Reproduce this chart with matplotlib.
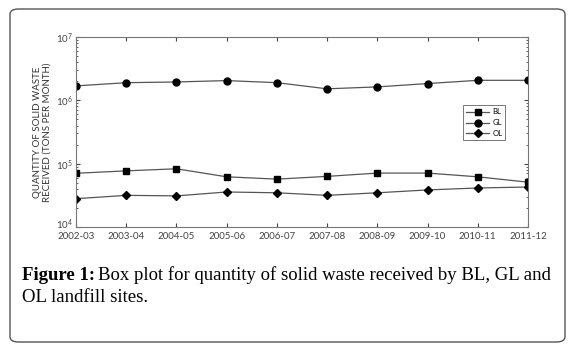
import matplotlib.pyplot as plt
import matplotlib.transforms as mtransforms
from matplotlib.patches import FancyBboxPatch

# data
years = ['2002-03', '2003-04', '2004-05', '2005-06', '2006-07',
         '2007-08', '2008-09', '2009-10', '2010-11', '2011-12']
bl = [7.05e4, 7.7e4, 8.3e4, 6.2e4, 5.7e4, 6.3e4, 7.1e4, 7.1e4, 6.2e4, 5.1e4]
gl = [1.69e6, 1.9e6, 1.95e6, 2.05e6, 1.9e6, 1.52e6, 1.63e6, 1.84e6, 2.07e6, 2.07e6]
ol = [2.8e4, 3.16e4, 3.1e4, 3.57e4, 3.47e4, 3.16e4, 3.47e4, 3.85e4, 4.13e4, 4.28e4]

plt.rcParams['font.family'] = ['Lato', 'DejaVu Sans']

fig = plt.figure(figsize=(5.75, 3.53), dpi=100)

# rounded frame round the whole figure
frame = FancyBboxPatch((10 / 575, 11 / 353), 555 / 575, 333 / 353,
                       boxstyle='round,pad=0,rounding_size=0.015',
                       transform=fig.transFigure, fill=False,
                       edgecolor='#555555', linewidth=1.0)
fig.patches.append(frame)

ax = fig.add_axes([76 / 575, 1 - 227 / 353, 452 / 575, 190 / 353])
x = range(len(years))
line_col = '#555555'
ax.plot(x, bl, color=line_col, lw=0.9, marker='s', ms=4, mfc='black', mec='black', label='BL')
ax.plot(x, gl, color=line_col, lw=0.9, marker='o', ms=5, mfc='black', mec='black', label='GL')
ax.plot(x, ol, color=line_col, lw=0.9, marker='D', ms=4.5, mfc='black', mec='black', label='OL')

ax.set_yscale('log')
ax.set_ylim(1e4, 1e7)
ax.set_xlim(0, len(years) - 1)
ax.set_xticks(list(x))
ax.set_xticklabels(years)
ax.tick_params(which='both', direction='in', top=True, right=True,
               labelsize=7, colors='#444444')
ax.tick_params(axis='x', pad=3.5)
ax.tick_params(axis='y', pad=2)
ax.tick_params(which='major', length=3)
ax.tick_params(which='minor', length=1.5)
for s in ax.spines.values():
    s.set_color('#777777')
    s.set_linewidth(0.8)

# lift the bottom 10^4 label a little so it clears the first x label
fig.canvas.draw()
lab0 = ax.get_yticklabels()[0]
for lab in ax.get_yticklabels():
    if lab.get_position()[1] <= 1e4 * 1.01:
        lab.set_transform(lab.get_transform() +
                          mtransforms.ScaledTranslation(0, 3 / 72, fig.dpi_scale_trans))

ax.set_ylabel('QUANTITY OF SOLID WASTE\nRECEIVED (TONS PER MONTH)',
              fontsize=7, color='#333333', labelpad=3, linespacing=1.2)

leg = ax.legend(loc='upper left', bbox_to_anchor=(0.848, 0.66), fontsize=5.5,
                frameon=True, fancybox=False, edgecolor='#555555',
                handlelength=3, borderpad=0.4, labelspacing=0.5, handletextpad=0.4)
leg.get_frame().set_linewidth(0.7)

# caption: bold label followed by normal text
cap_size = 13.5
t1 = fig.text(22 / 575, 1 - 275 / 353, 'Figure 1:', fontsize=cap_size,
              family='Liberation Serif', weight='bold', va='center')
fig.canvas.draw()
bb = t1.get_window_extent()
fig.text((bb.x1 + 3) / 575, 1 - 275 / 353,
         'Box plot for quantity of solid waste received by BL, GL and',
         fontsize=cap_size, family='Liberation Serif', va='center')
fig.text(22 / 575, 1 - 298 / 353, 'OL landfill sites.', fontsize=cap_size,
         family='Liberation Serif', va='center')

fig.savefig('out.png', dpi=100)
